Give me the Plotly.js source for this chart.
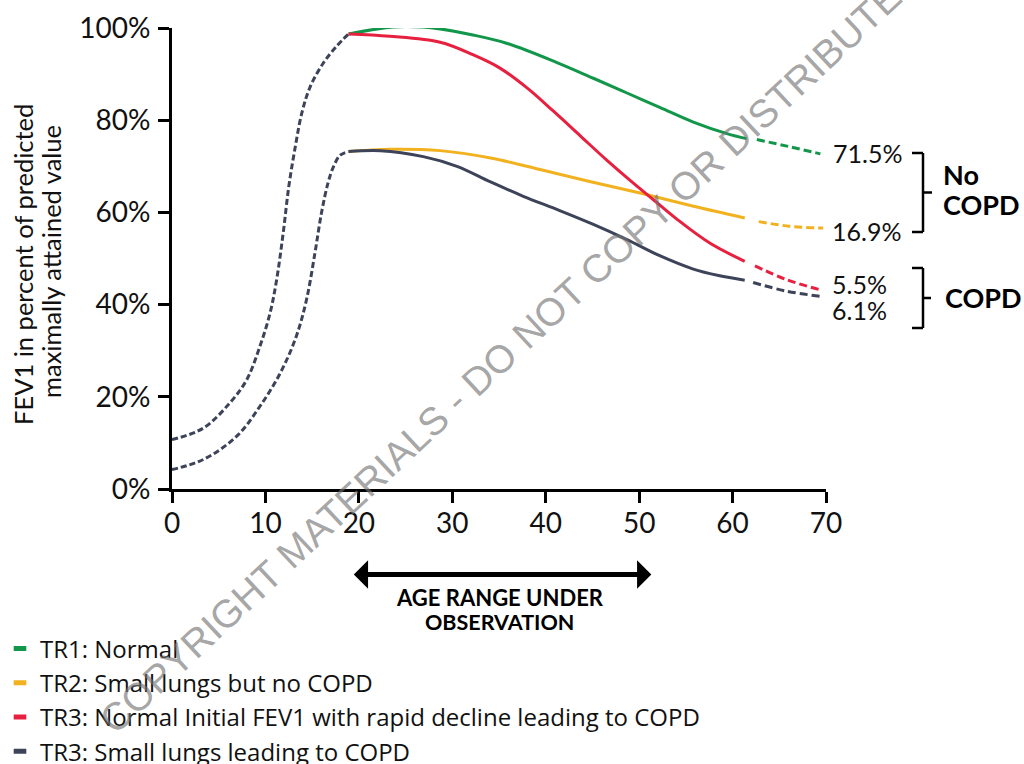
<!DOCTYPE html>
<html>
<head>
<meta charset="utf-8">
<script src="https://cdn.plot.ly/plotly-3.0.1.min.js"></script>
<style>
  html, body { margin: 0; padding: 0; background: #fff; }
  #chart { width: 1024px; height: 764px; }
</style>
</head>
<body>
<div id="chart"></div>
<script>
// ---------------- DATA ----------------
// Growth phase (dashed, shared colour) from birth to ~19 years
const growthNormalAge = [0, 3.35, 6.2, 8.0, 9.4, 10.5, 11.2, 11.9, 12.5, 13.2, 13.9, 14.8, 16.2, 17.6, 18.9];
const growthNormalVal = [10.7, 13.2, 18.7, 23.7, 30.9, 38.2, 45.4, 55.5, 65.6, 74.3, 81.6, 87.3, 92.4, 96.0, 98.7];
const growthSmallAge  = [0, 3.35, 6.9, 9.4, 11.6, 13.3, 14.4, 15.3, 16.0, 16.7, 17.3, 18.0, 18.9];
const growthSmallVal  = [4.2, 6.4, 11.4, 17.9, 25.2, 33.1, 41.1, 51.2, 59.9, 66.4, 70.0, 72.4, 73.2];

// TR1: Normal
const tr1Age = [18.9, 22, 25, 28.7, 32.2, 35.8, 41.2, 45.1, 48.7, 52.2, 55.8, 59.4, 61.5];
const tr1Val = [98.7, 99.8, 100.3, 99.8, 98.5, 96.7, 92.5, 89.1, 85.9, 82.8, 79.6, 77.1, 76.0];
const tr1ExtAge = [62.6, 66.0, 69.4];
const tr1ExtVal = [75.8, 74.3, 72.7];

// TR2: Small lungs but no COPD
const tr2Age = [18.9, 23.3, 28.7, 34.1, 39.4, 44.7, 50.1, 55.7, 61.3];
const tr2Val = [73.2, 73.7, 73.4, 71.8, 69.3, 66.7, 64.2, 61.4, 58.8];
const tr2ExtAge = [62.8, 66.1, 69.7];
const tr2ExtVal = [58.0, 57.0, 56.6];

// TR3: Normal initial FEV1 with rapid decline
const tr3aAge = [18.9, 23.3, 28.7, 32.2, 35.1, 38.0, 40.8, 43.7, 46.5, 49.0, 51.5, 54.0, 57.6, 61.3];
const tr3aVal = [98.7, 98.2, 96.9, 94.2, 91.3, 87.0, 82.0, 76.6, 71.4, 67.0, 62.8, 58.6, 53.3, 49.4];
const tr3aExtAge = [62.4, 65.8, 69.4];
const tr3aExtVal = [48.4, 45.4, 43.2];

// TR3: Small lungs leading to COPD
const tr3bAge = [18.9, 22.3, 26.9, 30.5, 34.1, 37.6, 41.5, 45.1, 48.7, 52.2, 55.8, 58.5, 61.3];
const tr3bVal = [73.2, 73.4, 72.1, 70.0, 66.6, 63.5, 60.4, 57.4, 54.1, 50.6, 47.7, 46.3, 45.3];
const tr3bExtAge = [62.2, 65.8, 69.4];
const tr3bExtVal = [44.8, 42.9, 41.8];

const seriesNames = [
  'TR1: Normal',
  'TR2: Small lungs but no COPD',
  'TR3: Normal Initial FEV1 with rapid decline leading to COPD',
  'TR3: Small lungs leading to COPD'
];
const endLabels = ['71.5%', '16.9%', '5.5%', '6.1%'];
const groupLabels = ['No', 'COPD', 'COPD'];
const obsRange = [19.3, 51.3];
const obsLabel = ['AGE RANGE UNDER', 'OBSERVATION'];
const yTitle = ['FEV1 in percent of predicted', 'maximally attained value'];
const xTicks = [0, 10, 20, 30, 40, 50, 60, 70];
const yTicks = [0, 20, 40, 60, 80, 100];
const yTickLabels = ['0%', '20%', '40%', '60%', '80%', '100%'];
const watermark = 'COPYRIGHT MATERIALS - DO NOT COPY OR DISTRIBUTE';

// ---------------- STYLE ----------------
const GREEN = '#12974a', YELLOW = '#f2b11e', RED = '#e8203f', NAVY = '#3d4459';
const FONT = 'Lato, "Open Sans", sans-serif';

const L = 172, R = 198, T = 28, B = 275, W = 1024, H = 764;
const PW = W - L - R, PH = H - T - B;
const xP = px => (px - L) / PW;
const yP = py => (H - B - py) / PH;

function solid(x, y, c) {
  return { x, y, mode: 'lines', line: { color: c, width: 3, shape: 'spline', smoothing: 1 },
           showlegend: false, hoverinfo: 'skip', cliponaxis: false };
}
function dashed(x, y, c, d) {
  return { x, y, mode: 'lines', line: { color: c, width: 3, dash: d, shape: 'spline', smoothing: 1 },
           showlegend: false, hoverinfo: 'skip', cliponaxis: false };
}
function legendEntry(name, c) {
  return { x: [null], y: [null], mode: 'markers', name,
           marker: { symbol: 'line-ew', size: 9, color: c, line: { color: c, width: 5 } },
           showlegend: true, hoverinfo: 'skip' };
}

const traces = [
  dashed(growthNormalAge, growthNormalVal, NAVY, '6px,3px'),
  dashed(growthSmallAge, growthSmallVal, NAVY, '6px,3px'),
  solid(tr2Age, tr2Val, YELLOW),
  solid(tr3bAge, tr3bVal, NAVY),
  solid(tr1Age, tr1Val, GREEN),
  solid(tr3aAge, tr3aVal, RED),
  dashed(tr1ExtAge, tr1ExtVal, GREEN, '8px,4px'),
  dashed(tr2ExtAge, tr2ExtVal, YELLOW, '8px,4px'),
  dashed(tr3aExtAge, tr3aExtVal, RED, '8px,4px'),
  dashed(tr3bExtAge, tr3bExtVal, NAVY, '8px,4px'),
  legendEntry(seriesNames[0], GREEN),
  legendEntry(seriesNames[1], YELLOW),
  legendEntry(seriesNames[2], RED),
  legendEntry(seriesNames[3], NAVY)
];

function txt(text, x, y, opts) {
  return Object.assign({ text, x: xP(x), y: yP(y), xref: 'paper', yref: 'paper', showarrow: false,
    xanchor: 'left', yanchor: 'middle', font: { family: FONT, size: 25, color: '#111' } }, opts || {});
}
const boldFont = s => ({ family: FONT, size: s, color: '#000', weight: 'bold' });

const annotations = [
  // y-axis title (two lines)
  txt(yTitle[0], 23, 265, { textangle: -90, xanchor: 'center', font: { family: FONT, size: 25.5, color: '#111' } }),
  txt(yTitle[1], 51, 262, { textangle: -90, xanchor: 'center', font: { family: FONT, size: 25.5, color: '#111' } }),
  // end labels
  txt(endLabels[0], 831, 153),
  txt(endLabels[1], 830, 231),
  txt(endLabels[2], 830, 284),
  txt(endLabels[3], 830, 310),
  // group labels
  txt(groupLabels[0], 941, 174, { font: boldFont(27) }),
  txt(groupLabels[1], 941, 205, { font: boldFont(27) }),
  txt(groupLabels[2], 943, 297, { font: boldFont(27) }),
  // observation arrow
  { x: obsRange[1], y: yP(574.5), xref: 'x', yref: 'paper', ax: obsRange[0], axref: 'x', ay: 0, ayref: 'pixel',
    text: '', showarrow: true, arrowside: 'end+start', arrowhead: 1, startarrowhead: 1,
    arrowsize: 0.95, startarrowsize: 0.95, arrowwidth: 5, arrowcolor: '#000', standoff: 0, startstandoff: 0 },
  txt(obsLabel[0], 500, 597.5, { xanchor: 'center', font: boldFont(22) }),
  txt(obsLabel[1], 500, 622, { xanchor: 'center', font: boldFont(21.5) }),
  // watermark
  txt(watermark, 500, 358, { xanchor: 'center', textangle: -43,
      font: { family: '"Liberation Sans", Arial, sans-serif', size: 39, color: 'rgba(115,115,115,0.65)' } })
];

function bracket(xv, top, bot, tickL, tickR) {
  const mid = (top + bot) / 2;
  const ln = { color: '#000', width: 2.5 };
  return [
    { type: 'line', xref: 'paper', yref: 'paper', x0: xP(xv), x1: xP(xv), y0: yP(top), y1: yP(bot), line: ln },
    { type: 'line', xref: 'paper', yref: 'paper', x0: xP(tickL), x1: xP(xv), y0: yP(top), y1: yP(top), line: ln },
    { type: 'line', xref: 'paper', yref: 'paper', x0: xP(tickL), x1: xP(xv), y0: yP(bot), y1: yP(bot), line: ln },
    { type: 'line', xref: 'paper', yref: 'paper', x0: xP(xv), x1: xP(tickR), y0: yP(mid), y1: yP(mid), line: ln }
  ];
}
const shapes = [].concat(bracket(923, 153, 232, 912, 932), bracket(923, 268, 328, 912, 931));

const axisCommon = {
  showgrid: false, zeroline: false, showline: true, linecolor: '#000', linewidth: 3,
  ticks: 'outside', ticklen: 11, tickwidth: 3, tickcolor: '#000',
  tickfont: { family: FONT, size: 28, color: '#111' }, fixedrange: true
};

const layout = {
  width: W, height: H,
  margin: { l: L, r: R, t: T, b: B, pad: 0, autoexpand: false },
  paper_bgcolor: '#fff', plot_bgcolor: '#fff',
  font: { family: FONT },
  xaxis: Object.assign({}, axisCommon, { range: [0, 70], tickvals: xTicks, automargin: false,
                                          ticklabelstandoff: -4 }),
  yaxis: Object.assign({}, axisCommon, { range: [0, 100], tickvals: yTicks, ticktext: yTickLabels,
                                          ticklabelstandoff: 2, automargin: false }),
  showlegend: true,
  legend: { x: xP(0), xanchor: 'left', y: yP(626.5), yanchor: 'top', orientation: 'v',
            font: { family: '"Open Sans", Lato, sans-serif', size: 24, color: '#111' }, bgcolor: 'rgba(0,0,0,0)',
            borderwidth: 0, itemclick: false, itemdoubleclick: false, tracegroupgap: 0 },
  annotations, shapes
};

Plotly.newPlot('chart', traces, layout, { displayModeBar: false, staticPlot: true });
</script>
</body>
</html>
